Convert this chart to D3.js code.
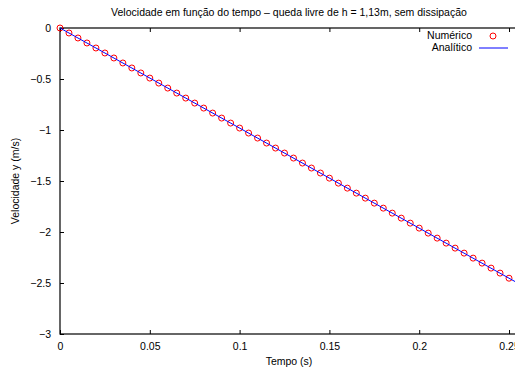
<!DOCTYPE html>
<html>
<head>
<meta charset="utf-8">
<script src="https://cdn.jsdelivr.net/npm/d3@7"></script>
<style>
  body { margin: 0; background: #fff; overflow: hidden; }
  svg text { font-family: "Liberation Sans", Arial, Helvetica, sans-serif; font-size: 10.5px; fill: #000; }
</style>
</head>
<body>
<svg id="chart" width="515" height="369"></svg>
<script>
/* velocity vs time, free fall */
const svg = d3.select("svg#chart");

// data
const numTime = [0, 0.005, 0.01, 0.015, 0.02, 0.025, 0.03, 0.035, 0.04, 0.045,
    0.05, 0.055, 0.06, 0.065, 0.07, 0.075, 0.08, 0.085, 0.09, 0.095,
    0.1, 0.105, 0.11, 0.115, 0.12, 0.125, 0.13, 0.135, 0.14, 0.145,
    0.15, 0.155, 0.16, 0.165, 0.17, 0.175, 0.18, 0.185, 0.19, 0.195,
    0.2, 0.205, 0.21, 0.215, 0.22, 0.225, 0.23, 0.235, 0.24, 0.245, 0.25];
const numVel = [0, -0.049, -0.098, -0.147, -0.196, -0.245, -0.294, -0.343, -0.392, -0.441,
    -0.491, -0.54, -0.589, -0.638, -0.687, -0.736, -0.785, -0.834, -0.883, -0.932,
    -0.981, -1.03, -1.079, -1.128, -1.177, -1.226, -1.275, -1.324, -1.373, -1.422,
    -1.472, -1.521, -1.57, -1.619, -1.668, -1.717, -1.766, -1.815, -1.864, -1.913,
    -1.962, -2.011, -2.06, -2.109, -2.158, -2.207, -2.256, -2.305, -2.354, -2.403, -2.453];
const anaTime = [0, 0.255];
const anaVel = [0, -2.502];
const xTicks = [0, 0.05, 0.1, 0.15, 0.2, 0.25];
const yTicks = [0, -0.5, -1, -1.5, -2, -2.5, -3];
const titleText = "Velocidade em função do tempo – queda livre de h = 1,13m, sem dissipação";

const mLeft = 60, mTop = 28, mRight = 518, mBottom = 334;
const x = d3.scaleLinear().domain([0, 0.255]).range([mLeft, mRight]);
const y = d3.scaleLinear().domain([-3, 0]).range([mBottom, mTop]);
const fmt = (d) => (d < 0 ? "\u2212" + Math.abs(d) : String(d));

// axes, ticks inward
const tickLen = 4;
svg.append("g")
    .attr("transform", `translate(0,${mBottom})`)
    .call(d3.axisBottom(x).tickValues(xTicks).tickSizeInner(-tickLen).tickSizeOuter(0).tickPadding(9).tickFormat(fmt))
    .call((g) => g.select(".domain").remove());
svg.append("g")
    .attr("transform", `translate(0,${mTop})`)
    .call(d3.axisTop(x).tickValues(xTicks).tickSizeInner(-tickLen).tickSizeOuter(0).tickFormat(""))
    .call((g) => g.select(".domain").remove());
svg.append("g")
    .attr("transform", `translate(${mLeft},0)`)
    .call(d3.axisLeft(y).tickValues(yTicks).tickSizeInner(-tickLen).tickSizeOuter(0).tickPadding(9).tickFormat(fmt))
    .call((g) => g.select(".domain").remove());
svg.selectAll(".tick line").attr("stroke", "#000");
svg.selectAll(".tick text").style("font-size", "10.5px");

// border
svg.append("rect")
    .attr("x", mLeft).attr("y", mTop)
    .attr("width", mRight - mLeft).attr("height", mBottom - mTop)
    .attr("fill", "none").attr("stroke", "#000").attr("stroke-width", 1.2);

// clip
svg.append("clipPath").attr("id", "clip")
    .append("rect").attr("x", mLeft - 5).attr("y", mTop - 5)
    .attr("width", mRight - mLeft + 5).attr("height", mBottom - mTop + 5);
const plot = svg.append("g").attr("clip-path", "url(#clip)");

// numeric points
plot.selectAll("circle.num")
    .data(numTime)
    .join("circle")
    .attr("class", "num")
    .attr("cx", (d) => x(d))
    .attr("cy", (d, i) => y(numVel[i]))
    .attr("r", 3)
    .attr("fill", "none")
    .attr("stroke", "#ff0000")
    .attr("stroke-width", 1);

// analytic line
const line = d3.line().x((d) => x(d)).y((d, i) => y(anaVel[i]));
plot.append("path")
    .datum(anaTime)
    .attr("d", line)
    .attr("fill", "none")
    .attr("stroke", "#0000ff")
    .attr("stroke-width", 1);

// legend
const legend = svg.append("g");
legend.append("text").text("Numérico")
    .attr("x", 472).attr("y", 36).attr("text-anchor", "end").attr("dominant-baseline", "middle");
legend.append("circle")
    .attr("cx", 493).attr("cy", 36).attr("r", 3)
    .attr("fill", "none").attr("stroke", "#ff0000");
legend.append("text").text("Analítico")
    .attr("x", 472).attr("y", 48).attr("text-anchor", "end").attr("dominant-baseline", "middle");
legend.append("line")
    .attr("x1", 479).attr("x2", 508).attr("y1", 48).attr("y2", 48)
    .attr("stroke", "#0000ff").attr("stroke-width", 1);

// titles
svg.append("text").text(titleText)
    .attr("x", (mLeft + mRight) / 2).attr("y", 13)
    .attr("text-anchor", "middle").attr("dominant-baseline", "middle");
svg.append("text").text("Tempo (s)")
    .attr("x", (mLeft + mRight) / 2).attr("y", 362)
    .attr("text-anchor", "middle").attr("dominant-baseline", "middle");
svg.append("text").text("Velocidade y (m/s)")
    .attr("transform", `translate(16,${(mTop + mBottom) / 2}) rotate(-90)`)
    .attr("text-anchor", "middle").attr("dominant-baseline", "middle");
</script>
</body>
</html>
